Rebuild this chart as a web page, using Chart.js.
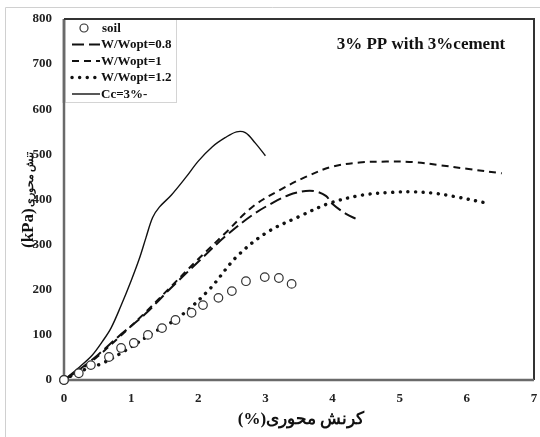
<!DOCTYPE html>
<html><head><meta charset="utf-8">
<script src="https://cdn.jsdelivr.net/npm/chart.js@4.4.1/dist/chart.umd.min.js"></script>
<style>html,body{margin:0;padding:0;background:#fff}#wrap{width:540px;height:437px;position:relative}</style>
</head><body><div id="wrap"><canvas id="c" width="540" height="437"></canvas></div>
<script>
// Data (axial strain %, axial stress kPa)
const soilX = [0, 0.22, 0.4, 0.67, 0.85, 1.04, 1.25, 1.46, 1.66, 1.9, 2.07, 2.3, 2.5, 2.71, 2.99, 3.2, 3.39];
const soilY = [0, 15, 33, 51, 71, 82, 100, 115, 133, 149, 166, 182, 197, 219, 228, 226, 213];

const w08X = [0, 0.2, 0.5, 0.8, 1.2, 1.6, 2.0, 2.4, 2.8, 3.1, 3.35, 3.6, 3.75, 3.9, 4.0, 4.2, 4.35];
const w08Y = [0, 20, 55, 95, 145, 205, 262, 318, 365, 392, 410, 419, 418, 408, 390, 368, 357];

const w10X = [0, 0.2, 0.5, 0.8, 1.2, 1.6, 2.0, 2.4, 2.8, 3.2, 3.6, 4.0, 4.4, 4.8, 5.2, 5.6, 6.0, 6.52];
const w10Y = [0, 18, 52, 92, 148, 208, 268, 325, 383, 420, 450, 473, 482, 484, 483, 476, 468, 458];

const w12X = [0, 0.22, 0.57, 0.92, 1.32, 1.72, 2.16, 2.57, 3.01, 3.5, 3.96, 4.45, 4.9, 5.19, 5.5, 5.8, 6.3];
const w12Y = [0, 18, 37, 66, 104, 140, 200, 273, 326, 362, 392, 410, 416, 417, 414, 407, 392];

const ccX = [0, 0.2, 0.42, 0.57, 0.7, 0.85, 1.0, 1.12, 1.22, 1.32, 1.42, 1.6, 1.82, 2.0, 2.21, 2.4, 2.57, 2.7, 2.85, 3.0];
const ccY = [0, 25, 55, 85, 115, 165, 220, 268, 315, 360, 383, 410, 450, 485, 517, 537, 550, 548, 525, 497];

const xTicks = [0, 1, 2, 3, 4, 5, 6, 7];
const yTicks = [0, 100, 200, 300, 400, 500, 600, 700, 800];

const seriesLabels = ['soil', 'W/Wopt=0.8', 'W/Wopt=1', 'W/Wopt=1.2', 'Cc=3%-'];
const chartTitle = '3% PP with 3%cement';
const xTitle = '(%)کرنش محوری';
const yTitleLatin = '(kPa)';
const yTitleFa = 'تنش محوری';

const pts = (xs, ys) => xs.map((x, i) => ({x: x, y: ys[i]}));
const FONT = "'Liberation Serif', 'Times New Roman', 'DejaVu Serif', serif";
const INK = '#111';

const datasets = [
  {label: seriesLabels[0], data: pts(soilX, soilY), showLine: false, pointRadius: 4.3,
   pointBorderWidth: 1.2, pointBorderColor: '#333', pointBackgroundColor: '#fff', clip: 10, order: 0},
  {label: seriesLabels[1], data: pts(w08X, w08Y), showLine: true, borderColor: INK, borderWidth: 2,
   borderDash: [12, 5], pointRadius: 0, tension: 0.35, order: 2},
  {label: seriesLabels[2], data: pts(w10X, w10Y), showLine: true, borderColor: INK, borderWidth: 2,
   borderDash: [7, 5], pointRadius: 0, tension: 0.35, order: 3},
  {label: seriesLabels[3], data: pts(w12X, w12Y), showLine: true, borderColor: INK, borderWidth: 3.4,
   borderDash: [0.1, 7.5], borderCapStyle: 'round', pointRadius: 0, tension: 0.35, order: 4},
  {label: seriesLabels[4], data: pts(ccX, ccY), showLine: true, borderColor: INK, borderWidth: 1.4,
   pointRadius: 0, tension: 0.35, order: 1}
];

const decor = {
  id: 'decor',
  beforeDraw(chart) {
    const ctx = chart.ctx;
    ctx.save();
    ctx.strokeStyle = '#d0d0d0'; ctx.lineWidth = 1;
    ctx.beginPath(); ctx.moveTo(5.5, 437); ctx.lineTo(5.5, 7.5); ctx.lineTo(540, 7.5); ctx.stroke();
    ctx.restore();
  },
  afterDraw(chart) {
    const ctx = chart.ctx, a = chart.chartArea;
    ctx.save();
    // frame
    ctx.strokeStyle = '#333'; ctx.lineWidth = 2;
    ctx.beginPath(); ctx.moveTo(a.left, a.top); ctx.lineTo(a.right, a.top); ctx.lineTo(a.right, a.bottom); ctx.stroke();
    ctx.strokeStyle = '#6a6a6a'; ctx.lineWidth = 2.5;
    ctx.beginPath(); ctx.moveTo(a.left, a.top); ctx.lineTo(a.left, a.bottom); ctx.lineTo(a.right, a.bottom); ctx.stroke();
    // redraw origin soil marker over axis
    const m0 = chart.getDatasetMeta(0).data[0];
    ctx.beginPath(); ctx.arc(m0.x, m0.y, 4.3, 0, Math.PI * 2);
    ctx.fillStyle = '#fff'; ctx.fill(); ctx.lineWidth = 1.2; ctx.strokeStyle = '#333'; ctx.stroke();

    // chart title
    ctx.fillStyle = '#111'; ctx.textAlign = 'center'; ctx.textBaseline = 'middle';
    ctx.font = 'bold 17px ' + FONT;
    ctx.fillText(chartTitle, 421, 45);

    // legend box
    const lx = 65, ly = 19, lw = 111, lh = 83;
    ctx.fillStyle = '#fff'; ctx.fillRect(lx, ly, lw, lh);
    ctx.strokeStyle = '#d4d4d4'; ctx.lineWidth = 1;
    ctx.strokeRect(lx + 0.5, ly + 0.5, lw, lh);
    ctx.strokeStyle = '#6a6a6a'; ctx.lineWidth = 2.5;
    ctx.beginPath(); ctx.moveTo(a.left, ly); ctx.lineTo(a.left, ly + lh + 1); ctx.stroke();
    ctx.strokeStyle = '#333'; ctx.lineWidth = 2;
    ctx.beginPath(); ctx.moveTo(a.left, a.top); ctx.lineTo(lx + lw + 1, a.top); ctx.stroke();
    const rows = [28, 44.5, 61, 77.5, 94];
    ctx.font = 'bold 13px ' + FONT; ctx.textAlign = 'left'; ctx.textBaseline = 'middle';
    datasets.forEach((d, i) => {
      const y = rows[i];
      ctx.save();
      if (i === 0) {
        ctx.beginPath(); ctx.arc(84, y, 4, 0, Math.PI * 2);
        ctx.fillStyle = '#fff'; ctx.fill(); ctx.lineWidth = 1.2; ctx.strokeStyle = '#333'; ctx.stroke();
      } else {
        ctx.strokeStyle = d.borderColor; ctx.lineWidth = d.borderWidth;
        ctx.lineCap = d.borderCapStyle || 'butt';
        ctx.setLineDash(d.borderDash || []);
        ctx.beginPath(); ctx.moveTo(72, y); ctx.lineTo(100, y); ctx.stroke();
      }
      ctx.restore();
      ctx.fillStyle = '#111';
      ctx.fillText(d.label, i === 0 ? 102 : 101, y + 0.5);
    });

    // x title
    ctx.textAlign = 'center'; ctx.textBaseline = 'middle';
    ctx.font = 'bold 17px ' + FONT;
    ctx.fillText(xTitle, 301, 420);

    // y title (rotated)
    ctx.translate(29, 248); ctx.rotate(-Math.PI / 2);
    ctx.textAlign = 'left';
    ctx.font = 'bold 17px ' + FONT;
    ctx.fillText(yTitleLatin, 0, 0);
    const w = ctx.measureText(yTitleLatin).width;
    ctx.font = 'bold 11px ' + FONT;
    ctx.fillText(yTitleFa, w + 1, 1);
    ctx.restore();
  }
};

new Chart(document.getElementById('c'), {
  type: 'scatter',
  data: {datasets: datasets},
  options: {
    responsive: false, animation: false, devicePixelRatio: 1,
    layout: {padding: {left: 0, top: 19, right: 6, bottom: 12}},
    plugins: {legend: {display: false}, tooltip: {enabled: false}},
    scales: {
      x: {type: 'linear', min: 0, max: 7,
          grid: {display: false, drawTicks: false}, border: {display: false},
          afterFit: s => { s.height = 45; s.paddingRight = 0; s.paddingLeft = 0; },
          afterBuildTicks: s => { s.ticks = xTicks.map(v => ({value: v})); },
          ticks: {padding: 11, color: '#222', font: {family: FONT, size: 13, weight: 'bold'}, maxRotation: 0}},
      y: {type: 'linear', min: 0, max: 800,
          grid: {display: false, drawTicks: false}, border: {display: false},
          afterFit: s => { s.width = 64; s.paddingTop = 0; s.paddingBottom = 0; },
          afterBuildTicks: s => { s.ticks = yTicks.map(v => ({value: v})); },
          ticks: {padding: 12, color: '#222', font: {family: FONT, size: 13, weight: 'bold'}}}
    }
  },
  plugins: [decor]
});
</script>
</body></html>
